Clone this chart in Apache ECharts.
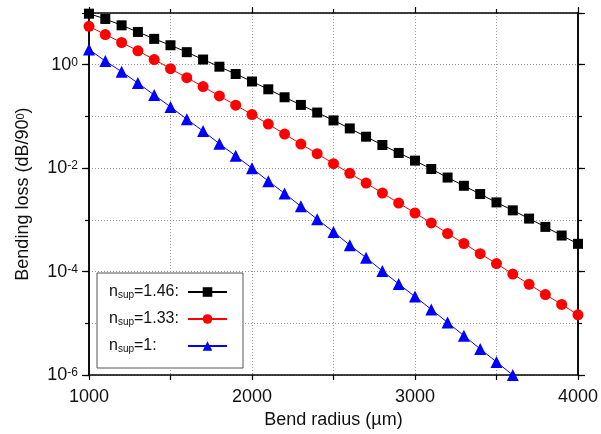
<!DOCTYPE html>
<html>
<head>
<meta charset="utf-8">
<script src="https://cdn.jsdelivr.net/npm/echarts@6/dist/echarts.min.js"></script>
<style>
  html, body { margin: 0; padding: 0; background: #fff; }
  #chart { width: 601px; height: 434px; }
</style>
</head>
<body>
<div id="chart"></div>
<script>
// Bend radius samples (µm)
const radius = [1000, 1100, 1200, 1300, 1400, 1500, 1600, 1700, 1800, 1900,
                2000, 2100, 2200, 2300, 2400, 2500, 2600, 2700, 2800, 2900,
                3000, 3100, 3200, 3300, 3400, 3500, 3600, 3700, 3800, 3900, 4000];

// Bending loss (dB/90°) for each superstrate index
const loss146 = [9.7, 7.67, 5.78, 4.30, 3.16, 2.38, 1.75, 1.26, 0.916, 0.661,
                 0.474, 0.335, 0.235, 0.167, 0.119, 0.0838, 0.0587, 0.0406, 0.0281, 0.0197,
                 0.0140, 0.00964, 0.00659, 0.00457, 0.00316, 0.00218, 0.00153, 0.00106, 0.000733, 0.000499, 0.000345];
const loss133 = [5.52, 3.83, 2.69, 1.86, 1.26, 0.838, 0.562, 0.378, 0.249, 0.165,
                 0.109, 0.0711, 0.0457, 0.0293, 0.0191, 0.01225, 0.00794, 0.00515, 0.0033, 0.00212,
                 0.00136, 0.000875, 0.000546, 0.00035, 0.000222, 0.000143, 0.0000899, 0.000057, 0.0000361, 0.0000232, 0.0000146];
const loss100 = [1.97, 1.18, 0.733, 0.443, 0.26, 0.153, 0.0887, 0.0521, 0.0297, 0.0173,
                 0.0100, 0.00562, 0.00325, 0.00183, 0.00103, 0.000587, 0.000325, 0.000186, 0.000103, 0.0000578,
                 0.000033, 0.0000186, 0.0000104, 0.00000578, 0.00000321, 0.0000018, 0.000001];

// Legend entries (superstrate index)
const indices = ['1.46', '1.33', '1'];

const FONT = '"Liberation Sans", Arial, sans-serif';
const TXT = '#111';

const pairs = (vals) => vals.map((v, i) => [radius[i], v]);

const gridDots = { color: '#9a9a9a', width: 1, type: [1, 2] };

function yAxisDef(position, interval, tickLen, withLabels, withSplit) {
  return {
    type: 'log',
    logBase: 10,
    position: position,
    min: 1e-6,
    max: 10,
    interval: interval,
    axisLine: { show: true, onZero: false, lineStyle: { color: '#000', width: 1.5 } },
    axisTick: { show: true, inside: false, length: tickLen, lineStyle: { color: '#000', width: 1.2 } },
    splitLine: { show: withSplit, lineStyle: gridDots },
    axisLabel: withLabels ? {
      show: true,
      margin: 11,
      formatter: function (v) {
        const e = Math.round(Math.log10(v));
        if (e % 2 !== 0) return '';
        return '{b|10}{s|' + e + '}';
      },
      rich: {
        b: { fontSize: 18, fontFamily: FONT, color: TXT, lineHeight: 16, padding: [4, 0, 4, 0] },
        s: { fontSize: 12, fontFamily: FONT, color: TXT, lineHeight: 11, verticalAlign: 'top' }
      }
    } : { show: false }
  };
}

const chart = echarts.init(document.getElementById('chart'), null, { renderer: 'canvas' });

chart.setOption({
  animation: false,
  backgroundColor: '#fff',
  grid: { left: 89, right: 22, top: 13, bottom: 57, containLabel: false },
  legend: {
    orient: 'vertical',
    left: 97,
    top: 273,
    align: 'right',
    padding: [7, 15, 10, 12],
    itemGap: 3,
    itemWidth: 39,
    itemHeight: 12,
    borderColor: '#555',
    borderWidth: 1,
    backgroundColor: '#fff',
    data: indices,
    formatter: function (name) {
      return '{n|n}{s|sup}{n|=' + name + ':}';
    },
    textStyle: {
      width: 74,
      fontSize: 16,
      fontFamily: FONT,
      color: TXT,
      rich: {
        n: { fontSize: 16, fontFamily: FONT, color: TXT, lineHeight: 16, padding: [4, 0, 4, 0], align: 'left' },
        s: { fontSize: 10, fontFamily: FONT, color: TXT, lineHeight: 10, verticalAlign: 'bottom', align: 'left' }
      }
    }
  },
  xAxis: [
    {
      type: 'value',
      position: 'bottom',
      min: 1000,
      max: 4000,
      interval: 1000,
      name: 'Bend radius (µm)',
      nameLocation: 'middle',
      nameGap: 35,
      nameTextStyle: { fontSize: 18, fontFamily: FONT, color: TXT },
      axisLine: { show: true, onZero: false, lineStyle: { color: '#000', width: 1.5 } },
      axisTick: { show: true, length: 5, lineStyle: { color: '#000', width: 1.2 } },
      minorTick: { show: true, splitNumber: 2, length: 5, lineStyle: { color: '#000', width: 1.2 } },
      splitLine: { show: true, lineStyle: gridDots },
      minorSplitLine: { show: true, lineStyle: gridDots },
      axisLabel: {
        fontSize: 18, fontFamily: FONT, color: TXT, margin: 13,
        formatter: function (v) { return String(v); }
      }
    },
    {
      type: 'value',
      position: 'top',
      min: 1000,
      max: 4000,
      interval: 1000,
      axisLine: { show: true, onZero: false, lineStyle: { color: '#000', width: 1.5 } },
      axisTick: { show: true, length: 6, lineStyle: { color: '#000', width: 1.2 } },
      minorTick: { show: true, splitNumber: 2, length: 4, lineStyle: { color: '#000', width: 1.2 } },
      splitLine: { show: false },
      axisLabel: { show: false }
    }
  ],
  yAxis: [
    Object.assign(yAxisDef('left', 2, 7, true, false), {
      name: '{t|Bending loss (dB/90}{s|0}{t|)}',
      nameLocation: 'middle',
      nameGap: 53,
      nameRotate: 90,
      nameTextStyle: {
        rich: {
          t: { fontSize: 18, fontFamily: FONT, color: TXT, lineHeight: 16, padding: [4, 0, 4, 0] },
          s: { fontSize: 11, fontFamily: FONT, color: TXT, lineHeight: 11, verticalAlign: 'top' }
        }
      }
    }),
    yAxisDef('left', 1, 4, false, true),
    yAxisDef('right', 2, 7, false, false),
    yAxisDef('right', 1, 4, false, false)
  ],
  series: [
    {
      name: indices[0], type: 'line', xAxisIndex: 0, yAxisIndex: 0,
      data: pairs(loss146),
      symbol: 'rect', symbolSize: 10,
      itemStyle: { color: '#000' },
      lineStyle: { color: '#000', width: 1 },
      z: 5
    },
    {
      name: indices[1], type: 'line', xAxisIndex: 0, yAxisIndex: 0,
      data: pairs(loss133),
      symbol: 'circle', symbolSize: 11,
      itemStyle: { color: '#ff0000' },
      lineStyle: { color: '#ff0000', width: 1 },
      z: 4
    },
    {
      name: indices[2], type: 'line', xAxisIndex: 0, yAxisIndex: 0,
      data: pairs(loss100),
      symbol: 'triangle', symbolSize: 12,
      itemStyle: { color: '#0000ff' },
      lineStyle: { color: '#0000ff', width: 1 },
      z: 3
    }
  ]
});
</script>
</body>
</html>
